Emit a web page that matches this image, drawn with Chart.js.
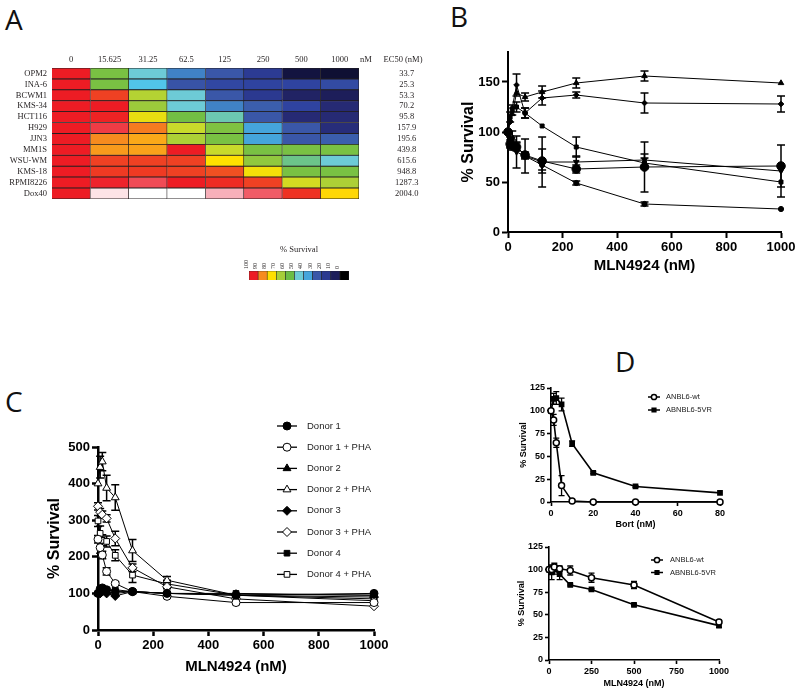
<!DOCTYPE html>
<html>
<head>
<meta charset="utf-8">
<script src="https://cdn.jsdelivr.net/npm/chart.js@4.4.1/dist/chart.umd.min.js"></script>
<style>
body { margin: 0; background: #fff; }
#page { position: relative; width: 800px; height: 693px; overflow: hidden; background: #fff; }
canvas { position: absolute; }
.tag { position: absolute; font-family: 'Open Sans', sans-serif; font-size: 28px; color: #111; line-height: 1; }
</style>
</head>
<body>
<div id="page">
  <div class="tag" style="left:5px;top:5px">A</div>
  <div class="tag" style="left:450px;top:2px">B</div>
  <div class="tag" style="left:5px;top:387px">C</div>
  <div class="tag" style="left:615px;top:347px">D</div>
  <canvas id="heat" width="440" height="240" style="left:0;top:0"></canvas>
  <canvas id="heatScale" width="130" height="48" style="left:236px;top:240px"></canvas>
  <canvas id="chartB" width="380" height="240" style="left:420px;top:40px"></canvas>
  <canvas id="chartC" width="400" height="293" style="left:0;top:400px"></canvas>
  <canvas id="chartD1" width="320" height="170" style="left:480px;top:370px"></canvas>
  <canvas id="chartD2" width="320" height="158" style="left:480px;top:535px"></canvas>
</div>
<script>
// ---- Panel A: heat map data ----
const cellLines = ['OPM2', 'INA-6', 'BCWM1', 'KMS-34', 'HCT116', 'H929', 'JJN3', 'MM1S', 'WSU-WM', 'KMS-18', 'RPMI8226', 'Dox40'];
const concLabels = ['0', '15.625', '31.25', '62.5', '125', '250', '500', '1000'];
const ec50Values = ['33.7', '25.3', '53.3', '70.2', '95.8', '157.9', '195.6', '439.8', '615.6', '948.8', '1287.3', '2004.0'];
const heatRows = [
  [100, 62, 50, 36, 30, 21, 5, 4],
  [100, 62, 46, 29, 26, 25, 25, 27],
  [100, 95, 72, 50, 30, 20, 12, 10],
  [100, 100, 68, 50, 36, 31, 25, 15],
  [100, 99, 78, 61, 53, 30, 15, 15],
  [100, 104, 91, 75, 63, 40, 30, 16],
  [100, 90, 86, 71, 62, 40, 30, 31],
  [100, 88, 87, 100, 75, 62, 62, 62],
  [100, 95, 95, 95, 80, 66, 56, 50],
  [100, 96, 96, 95, 94, 79, 62, 62],
  [100, 101, 106, 100, 98, 95, 76, 71],
  [100, 125, 140, 140, 118, 108, 97, 81]
];
const scaleSteps = [100, 90, 80, 70, 60, 50, 40, 30, 20, 10, 0];

// ---- Panel B ----
const bDose = [0, 7.8, 15.6, 31.25, 62.5, 125, 250, 500, 1000];
const bTriangle = [100, 112, 118, 139, 135, 140, 149, 156, 149];
const bTriangleErr = [0, 0, 0, 0, 4, 6, 5, 5, 0];
const bDiamond = [100, 110, 124, 147, 119, 134, 137, 129, 128];
const bDiamondErr = [0, 0, 0, 11, 5, 7, 3, 10, 8];
const bSquare = [100, 115, 122, 125, 119, 106, 85, 69, 50];
const bSquareErr = [0, 5, 5, 5, 5, 0, 10, 5, 15];
const bSmallCircle = [100, 92, 88, 86, 76, 67, 49, 28, 23];
const bSmallCircleErr = [0, 4, 4, 4, 3, 5, 2, 2, 0];
const bBigCircle = [100, 88, 86, 85, 77, 71, 63, 65, 66];
const bBigCircleErr = [0, 4, 4, 4, 3, 12, 4, 25, 21];
const bInvTriangle = [100, 90, 93, 80, 76, 70, 70, 72, 61];
const bInvTriangleErr = [0, 5, 8, 16, 17, 25, 6, 6, 0];

// ---- Panel C ----
const cDose = [0, 7.8, 15.6, 31.25, 62.5, 125, 250, 500, 1000];
const donor1 = [100, 112, 115, 110, 105, 105, 100, 95, 100];
const donor1PHA = [248, 225, 205, 160, 127, 105, 92, 75, 75];
const donor2 = [100, 105, 110, 105, 100, 105, 100, 98, 95];
const donor2PHA = [400, 445, 460, 388, 362, 217, 136, 95, 85];
const donor3 = [100, 100, 105, 100, 93, 105, 100, 95, 90];
const donor3PHA = [338, 322, 315, 305, 250, 170, 118, 85, 65];
const donor4 = [100, 105, 110, 108, 110, 105, 100, 100, 95];
const donor4PHA = [298, 264, 245, 242, 204, 150, 126, 95, 80];
const donor1PHAErr = [10, 15, 10, 10, 5, 5, 5, 5, 5];
const donor2PHAErr = [0, 30, 25, 35, 35, 30, 10, 0, 0];
const donor3PHAErr = [10, 10, 10, 10, 20, 10, 5, 0, 0];
const donor4PHAErr = [15, 20, 15, 15, 15, 20, 10, 0, 0];

// ---- Panel D ----
const bortDose = [0, 1.25, 2.5, 5, 10, 20, 40, 80];
const wtBort = [100, 90, 65, 18, 1, 0, 0, 0];
const wtBortErr = [0, 6, 5, 11, 1, 0, 0, 0];
const vrBort = [100, 113, 114, 107, 64, 32, 17, 10];
const vrBortErr = [0, 6, 7, 7, 3, 1, 1, 0];
const mlnDose = [0, 15.6, 31.25, 62.5, 125, 250, 500, 1000];
const wtMln = [100, 100, 103, 101, 99, 91, 83, 42];
const wtMlnErr = [0, 5, 4, 3, 5, 5, 4, 2];
const vrMln = [100, 97, 100, 95, 83, 78, 61, 38];
const vrMlnErr = [0, 8, 5, 6, 1, 1, 1, 2];

// colour scale for % survival (above 100 fades to white)
const colorStops = [
  [0, '#000000'], [5, '#131440'], [10, '#1d1e5a'], [15, '#262a74'], [20, '#2b3990'],
  [25, '#2f43a0'], [30, '#3a57a8'], [35, '#3f79c0'], [40, '#45a5dc'], [45, '#4ac3ef'],
  [50, '#6dcbd6'], [55, '#6cc69a'], [60, '#6cbd45'], [65, '#8cc63f'], [70, '#a6ce39'],
  [75, '#c8da2b'], [80, '#ffe000'], [85, '#fbb117'], [90, '#f68b1f'], [95, '#ef4123'],
  [100, '#ed1c24'], [108, '#f15b66'], [118, '#f7b0ba'], [125, '#fde3e6'], [135, '#ffffff']
];
function hexToRgb(h) {
  return [parseInt(h.slice(1, 3), 16), parseInt(h.slice(3, 5), 16), parseInt(h.slice(5, 7), 16)];
}
function survivalColor(v) {
  if (v <= colorStops[0][0]) return colorStops[0][1];
  for (let i = 1; i < colorStops.length; i++) {
    if (v <= colorStops[i][0]) {
      const a = colorStops[i - 1], b = colorStops[i];
      const t = (v - a[0]) / (b[0] - a[0]);
      const ca = hexToRgb(a[1]), cb = hexToRgb(b[1]);
      const c = ca.map((x, k) => Math.round(x + (cb[k] - x) * t));
      return 'rgb(' + c.join(',') + ')';
    }
  }
  return '#ffffff';
}

const SERIF = "'Liberation Serif', 'Times New Roman', serif";
const SANS = "'Liberation Sans', Arial, sans-serif";
const plainNumber = v => String(v);

// header texts of the heat map ("nM", "EC50 (nM)")
const heatHeader = {
  id: 'heatHeader',
  afterDraw(chart) {
    const ctx = chart.ctx;
    ctx.save();
    ctx.fillStyle = '#231f20';
    ctx.font = '8.5px ' + SERIF;
    ctx.textAlign = 'center';
    ctx.textBaseline = 'middle';
    ctx.fillText('nM', 366, 60);
    ctx.fillText('EC50 (nM)', 403, 60);
    ctx.restore();
  }
};

const noGrid = { display: false, drawTicks: false };

new Chart(document.getElementById('heat'), {
  type: 'bar',
  data: {
    labels: cellLines,
    datasets: concLabels.map((c, j) => ({
      label: c,
      data: cellLines.map(() => 1),
      backgroundColor: heatRows.map(r => survivalColor(r[j])),
      borderColor: '#231f20',
      borderWidth: 0.8,
      barPercentage: 1,
      categoryPercentage: 1
    }))
  },
  options: {
    indexAxis: 'y',
    responsive: false,
    animation: false,
    layout: { padding: { top: 0, right: 0, bottom: 12, left: 0 } },
    plugins: { legend: { display: false }, tooltip: { enabled: false } },
    scales: {
      x: {
        type: 'linear', position: 'top', stacked: true, min: 0, max: 8,
        grid: noGrid, border: { display: false },
        afterBuildTicks: s => { s.ticks = concLabels.map((c, i) => ({ value: i + 0.5 })); },
        ticks: {
          autoSkip: false, maxRotation: 0, padding: 3, color: '#231f20',
          font: { family: SERIF, size: 8.5 },
          callback: (v, i) => concLabels[i]
        },
        afterFit: s => { s.height = 68; }
      },
      y: {
        stacked: true,
        grid: noGrid, border: { display: false },
        ticks: { autoSkip: false, padding: 5, color: '#231f20', font: { family: SERIF, size: 8.5 } },
        afterFit: s => { s.width = 52; }
      },
      y2: {
        type: 'category', labels: ec50Values, position: 'right',
        grid: noGrid, border: { display: false },
        ticks: { autoSkip: false, crossAlign: 'center', padding: 36, color: '#231f20', font: { family: SERIF, size: 8.5 } },
        afterFit: s => { s.width = 81; }
      }
    }
  },
  plugins: [heatHeader]
});

// colour key under the heat map
new Chart(document.getElementById('heatScale'), {
  type: 'bar',
  data: {
    labels: scaleSteps.map(String),
    datasets: [{
      data: scaleSteps.map(() => 1),
      backgroundColor: scaleSteps.map(survivalColor),
      borderColor: '#231f20',
      borderWidth: 0.6,
      barPercentage: 1,
      categoryPercentage: 1
    }]
  },
  options: {
    responsive: false,
    animation: false,
    layout: { padding: { top: 0, right: 17, bottom: 8, left: 13 } },
    plugins: { legend: { display: false }, tooltip: { enabled: false } },
    scales: {
      x: {
        position: 'top',
        grid: noGrid, border: { display: false },
        ticks: { autoSkip: false, minRotation: 90, maxRotation: 90, padding: 2, color: '#231f20', font: { family: SERIF, size: 6 } },
        title: { display: true, text: '% Survival', color: '#231f20', font: { family: SERIF, size: 8.5 }, padding: { top: 5, bottom: 1 } },
        afterFit: s => { s.height = 31; }
      },
      y: { display: false, min: 0, max: 1 }
    }
  }
});

// vertical error bars, drawn below the markers
const errorBars = {
  id: 'errorBars',
  beforeDatasetsDraw(chart) {
    const ctx = chart.ctx;
    const yScale = chart.scales.y;
    chart.data.datasets.forEach((ds, i) => {
      if (!ds.errors) return;
      const meta = chart.getDatasetMeta(i);
      ctx.save();
      ctx.strokeStyle = '#000';
      ctx.lineWidth = ds.errorWidth || 1.5;
      const cap = ds.capHalf || 4;
      meta.data.forEach((pt, j) => {
        const e = ds.errors[j];
        if (!e) return;
        const v = ds.data[j].y;
        const top = yScale.getPixelForValue(v + e);
        const bot = yScale.getPixelForValue(v - e);
        ctx.beginPath();
        ctx.moveTo(pt.x, top); ctx.lineTo(pt.x, bot);
        ctx.moveTo(pt.x - cap, top); ctx.lineTo(pt.x + cap, top);
        ctx.moveTo(pt.x - cap, bot); ctx.lineTo(pt.x + cap, bot);
        ctx.stroke();
      });
      ctx.restore();
    });
  }
};

// legend with line + marker drawn at a fixed spot
const markerLegend = {
  id: 'markerLegend',
  afterDraw(chart, args, opts) {
    const ctx = chart.ctx;
    chart.data.datasets.forEach((ds, i) => {
      const y = opts.y + i * opts.dy;
      ctx.save();
      ctx.strokeStyle = '#000';
      ctx.lineWidth = opts.lineWidth;
      ctx.beginPath();
      ctx.moveTo(opts.x - opts.half, y);
      ctx.lineTo(opts.x + opts.half, y);
      ctx.stroke();
      ctx.fillStyle = ds.pointBackgroundColor;
      ctx.strokeStyle = '#000';
      ctx.lineWidth = ds.pointBorderWidth;
      Chart.helpers.drawPoint(ctx, {
        pointStyle: ds.pointStyle, radius: opts.radius || ds.pointRadius,
        rotation: ds.pointRotation || 0, borderWidth: ds.pointBorderWidth
      }, opts.x, y);
      ctx.fillStyle = '#222';
      ctx.font = opts.font;
      ctx.textAlign = 'left';
      ctx.textBaseline = 'middle';
      ctx.fillText(ds.label, opts.textX, y);
      ctx.restore();
    });
  }
};

function series(label, xs, ys, errs, style) {
  return Object.assign({
    label: label,
    data: xs.map((x, i) => ({ x: x, y: ys[i] })),
    errors: errs,
    borderColor: '#000',
    borderWidth: 1,
    pointBorderColor: '#000',
    pointBackgroundColor: '#000',
    pointRadius: 3,
    pointBorderWidth: 1,
    clip: false,
    tension: 0
  }, style || {});
}

function prismAxis(opt) {
  return {
    type: 'linear', min: opt.min, max: opt.max,
    ticks: {
      stepSize: opt.step, includeBounds: false, color: '#000', padding: opt.pad || 2,
      font: { family: SANS, weight: 'bold', size: opt.tick },
      callback: plainNumber
    },
    grid: { display: true, drawOnChartArea: false, drawTicks: true, tickLength: opt.tl || 6, tickColor: '#000', tickWidth: opt.lw || 2 },
    border: { display: true, color: '#000', width: opt.lw || 2 },
    title: { display: true, text: opt.title, color: '#000', padding: 3, font: { family: SANS, weight: 'bold', size: opt.titleSize } },
    afterFit: opt.fit
  };
}

function baseOptions(padding, xAxis, yAxis, extraPlugins) {
  return {
    responsive: false,
    animation: false,
    layout: { padding: padding },
    plugins: Object.assign({ legend: { display: false }, tooltip: { enabled: false } }, extraPlugins || {}),
    scales: { x: xAxis, y: yAxis }
  };
}

// ---- Panel B ----
new Chart(document.getElementById('chartB'), {
  type: 'line',
  data: {
    datasets: [
      series('Line 1', bDose, bTriangle, bTriangleErr, { pointStyle: 'triangle', pointRadius: 3.2 }),
      series('Line 2', bDose, bDiamond, bDiamondErr, { pointStyle: 'rectRot', pointRadius: 2.8 }),
      series('Line 3', bDose, bSquare, bSquareErr, { pointStyle: 'rect', pointRadius: 2.8 }),
      series('Line 4', bDose, bSmallCircle, bSmallCircleErr, { pointStyle: 'circle', pointRadius: 2.6 }),
      series('Line 5', bDose, bBigCircle, bBigCircleErr, { pointStyle: 'circle', pointRadius: 4.3 }),
      series('Line 6', bDose, bInvTriangle, bInvTriangleErr, { pointStyle: 'triangle', pointRotation: 180, pointRadius: 3.2 })
    ]
  },
  options: baseOptions(
    { top: 12, right: 19, bottom: 2, left: 36 },
    prismAxis({ min: 0, max: 1000, step: 200, tick: 13, title: 'MLN4924 (nM)', titleSize: 15, fit: s => { s.height = 46; } }),
    prismAxis({ min: 0, max: 180, step: 50, tick: 13, title: '% Survival', titleSize: 16, fit: s => { s.width = 52; } })
  ),
  plugins: [errorBars]
});

// ---- Panel C ----
const open = { pointBackgroundColor: '#fff' };
new Chart(document.getElementById('chartC'), {
  type: 'line',
  data: {
    datasets: [
      series('Donor 1', cDose, donor1, null, { pointStyle: 'circle', pointRadius: 4 }),
      series('Donor 1 + PHA', cDose, donor1PHA, donor1PHAErr, Object.assign({ pointStyle: 'circle', pointRadius: 4 }, open)),
      series('Donor 2', cDose, donor2, null, { pointStyle: 'triangle', pointRadius: 4.5 }),
      series('Donor 2 + PHA', cDose, donor2PHA, donor2PHAErr, Object.assign({ pointStyle: 'triangle', pointRadius: 4.5 }, open)),
      series('Donor 3', cDose, donor3, null, { pointStyle: 'rectRot', pointRadius: 4.5 }),
      series('Donor 3 + PHA', cDose, donor3PHA, donor3PHAErr, Object.assign({ pointStyle: 'rectRot', pointRadius: 4.5 }, open)),
      series('Donor 4', cDose, donor4, null, { pointStyle: 'rect', pointRadius: 4 }),
      series('Donor 4 + PHA', cDose, donor4PHA, donor4PHAErr, Object.assign({ pointStyle: 'rect', pointRadius: 4 }, open))
    ]
  },
  options: baseOptions(
    { top: 47, right: 26, bottom: 14, left: 42 },
    prismAxis({ min: 0, max: 1000, step: 200, tick: 13, title: 'MLN4924 (nM)', titleSize: 15, lw: 2.5, fit: s => { s.height = 49; } }),
    prismAxis({ min: 0, max: 500, step: 100, tick: 13, title: '% Survival', titleSize: 16, lw: 2.5, fit: s => { s.width = 56; } }),
    { markerLegend: { x: 287, y: 26, dy: 21.2, half: 10, textX: 307, lineWidth: 1.3, font: '9.5px ' + SANS } }
  ),
  plugins: [errorBars, markerLegend]
});

// ---- Panel D (top: bortezomib) ----
const dStyle = { borderWidth: 1.6, pointRadius: 3, pointBorderWidth: 1.5, errorWidth: 1.3, capHalf: 3 };
new Chart(document.getElementById('chartD1'), {
  type: 'line',
  data: {
    datasets: [
      series('ANBL6-wt', bortDose, wtBort, wtBortErr, Object.assign({ pointStyle: 'circle', pointBackgroundColor: '#fff' }, dStyle)),
      series('ABNBL6-5VR', bortDose, vrBort, vrBortErr, Object.assign({ pointStyle: 'rect' }, dStyle))
    ]
  },
  options: baseOptions(
    { top: 18, right: 80, bottom: 7, left: 35 },
    prismAxis({ min: 0, max: 80, step: 20, tick: 9, title: 'Bort (nM)', titleSize: 9, lw: 1.6, tl: 4, fit: s => { s.height = 31; } }),
    prismAxis({ min: 0, max: 125, step: 25, tick: 9, title: '% Survival', titleSize: 9, lw: 1.6, tl: 4, fit: s => { s.width = 36; } }),
    { markerLegend: { x: 174, y: 27, dy: 13, half: 6, textX: 186, lineWidth: 1.5, radius: 2.6, font: '7.5px ' + SANS } }
  ),
  plugins: [errorBars, markerLegend]
});

// ---- Panel D (bottom: MLN4924) ----
new Chart(document.getElementById('chartD2'), {
  type: 'line',
  data: {
    datasets: [
      series('ANBL6-wt', mlnDose, wtMln, wtMlnErr, Object.assign({ pointStyle: 'circle', pointBackgroundColor: '#fff' }, dStyle)),
      series('ABNBL6-5VR', mlnDose, vrMln, vrMlnErr, Object.assign({ pointStyle: 'rect' }, dStyle))
    ]
  },
  options: baseOptions(
    { top: 12, right: 81, bottom: 1, left: 33 },
    prismAxis({ min: 0, max: 1000, step: 250, tick: 9, title: 'MLN4924 (nM)', titleSize: 9, lw: 1.6, tl: 4, fit: s => { s.height = 32; } }),
    prismAxis({ min: 0, max: 125, step: 25, tick: 9, title: '% Survival', titleSize: 9, lw: 1.6, tl: 4, fit: s => { s.width = 36; } }),
    { markerLegend: { x: 177, y: 25, dy: 12.5, half: 6, textX: 190, lineWidth: 1.5, radius: 2.6, font: '7.5px ' + SANS } }
  ),
  plugins: [errorBars, markerLegend]
});
</script>
</body>
</html>
